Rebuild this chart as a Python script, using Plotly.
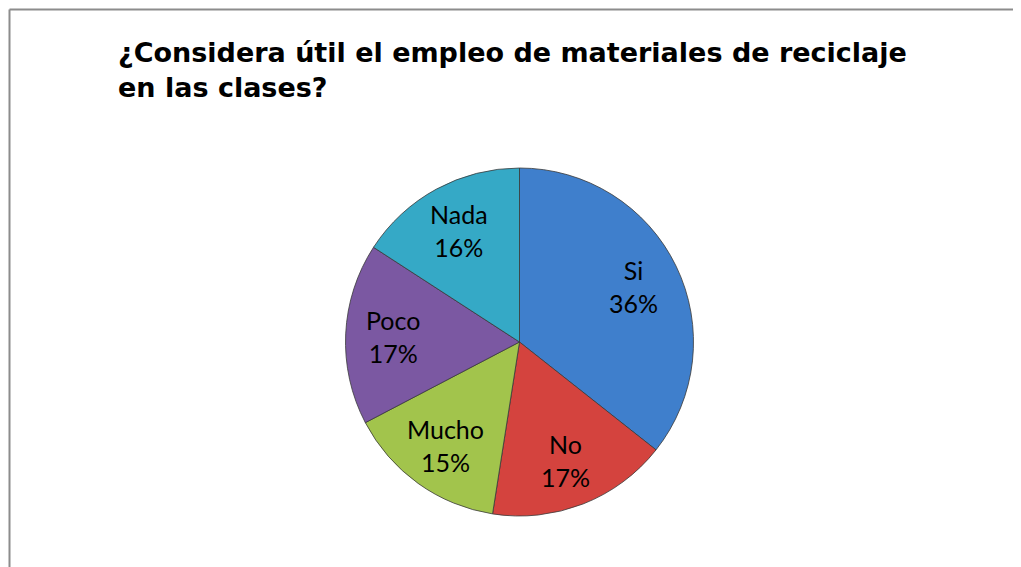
import math
import plotly.graph_objects as go

# page size; the browser's default 8px body margin offsets the figure
PW, PH = 1021, 567
OFF = 8
W, H = PW - OFF, PH - OFF

categories = ["Si", "No", "Mucho", "Poco", "Nada"]
values = [36, 17, 15, 17, 16]
colors = ["#3f7fcc", "#d4433e", "#a2c44c", "#7b58a2", "#35a9c6"]
title_text = "¿Considera útil el empleo de materiales de reciclaje<br>en las clases?"


def px(x):
    return (x - OFF) / W


def py(y):
    return 1 - (y - OFF) / H


cx, cy, r = 519.5, 342, 174

fig = go.Figure(go.Pie(
    labels=categories,
    values=values,
    sort=False,
    direction="clockwise",
    rotation=0,
    marker=dict(colors=colors, line=dict(color="#3a3a3a", width=0.8)),
    textinfo="none",
    showlegend=False,
    hoverinfo="label+percent",
    domain=dict(x=[px(cx - r), px(cx + r)], y=[py(cy + r), py(cy - r)]),
))

# data labels placed along each slice's mid angle, derived from the values
total = sum(values)
annotations = []
cum = 0
label_r = 0.73 * r
for cat, v in zip(categories, values):
    mid = (cum + v / 2) / total * 2 * math.pi
    cum += v
    lx = cx + label_r * math.sin(mid)
    ly = cy - label_r * math.cos(mid)
    annotations.append(dict(
        text=f"{cat}<br>{round(100 * v / total)}%",
        x=px(lx), y=py(ly), xref="paper", yref="paper",
        xanchor="center", yanchor="middle", align="center", showarrow=False,
        font=dict(family="Lato, Carlito, Calibri, sans-serif", size=25, color="#000000"),
    ))

annotations.append(dict(
    text="<b>" + title_text + "</b>",
    x=px(116), y=py(35), xref="paper", yref="paper",
    xanchor="left", yanchor="top", align="left", showarrow=False,
    font=dict(family="DejaVu Sans, Arial, sans-serif", size=27, color="#000000"),
))

fig.update_layout(
    width=W, height=H,
    margin=dict(l=0, r=0, t=0, b=0),
    paper_bgcolor="white",
    plot_bgcolor="white",
    annotations=annotations,
    shapes=[
        dict(type="line", xref="paper", yref="paper",
             x0=px(9.5), x1=1.01, y0=py(9.5), y1=py(9.5),
             line=dict(color="#8c8c8c", width=2)),
        dict(type="line", xref="paper", yref="paper",
             x0=px(9.5), x1=px(9.5), y0=py(9.5), y1=-0.01,
             line=dict(color="#8c8c8c", width=2)),
    ],
)

fig.write_html("out.html")
